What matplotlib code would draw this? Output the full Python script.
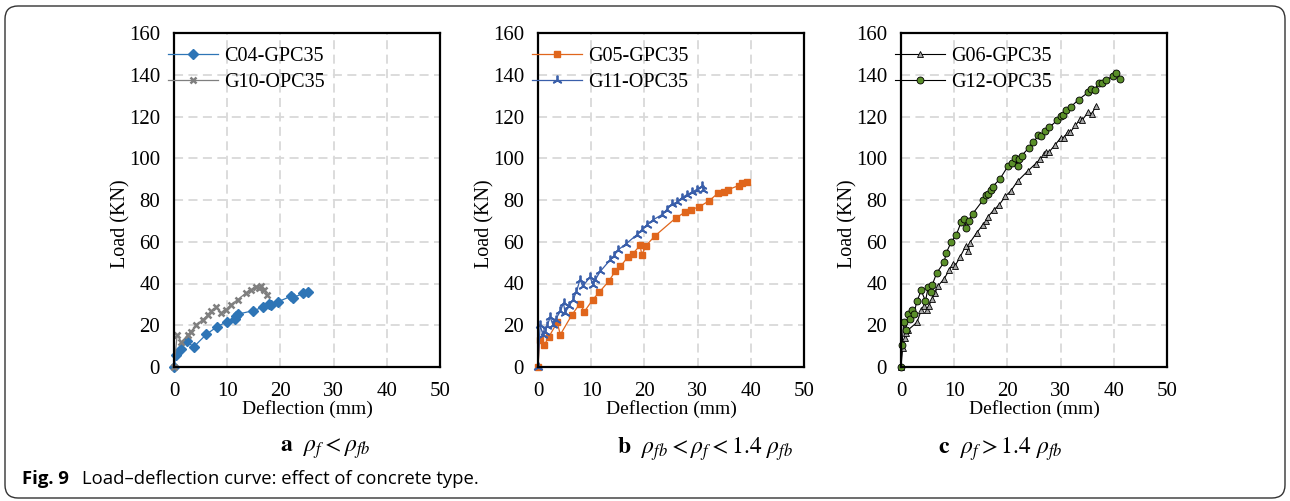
import matplotlib
matplotlib.use("Agg")
import matplotlib.pyplot as plt
from matplotlib.patches import FancyBboxPatch

plt.rcParams['font.family'] = ['Liberation Serif', 'DejaVu Serif']
plt.rcParams['mathtext.fontset'] = 'stix'

# panel a: rho_f < rho_fb
c04_x = [0, 0.4, 1.3, 2.4, 3.7, 6.1, 8.0, 9.9, 11.4, 11.7, 12.0, 14.9, 16.8, 17.9, 18.2, 19.6, 22.0, 22.3, 24.3, 25.1]
c04_y = [0, 5.9, 8.4, 12.3, 9.6, 15.7, 19.1, 21.7, 23.0, 24.6, 25.3, 27.0, 28.7, 30.2, 29.6, 31.3, 33.9, 33.0, 35.4, 36.0]
g10_x = [0, 0.6, 1.4, 2.6, 3.2, 4.2, 5.4, 6.4, 7.0, 7.9, 8.9, 9.8, 10.7, 12.0, 13.5, 14.5, 15.4, 16.0, 16.4, 17.0, 17.5]
g10_y = [0, 15.5, 11.8, 15.5, 17.0, 20.3, 22.7, 25.0, 26.7, 28.7, 25.9, 27.5, 29.9, 32.3, 35.4, 37.0, 38.3, 38.0, 38.6, 37.0, 34.7]

# panel b
g05_x = [0, 0.3, 1.2, 2.0, 3.6, 4.2, 6.4, 7.9, 8.7, 10.3, 11.5, 13.3, 14.5, 15.5, 16.9, 17.8, 19.2, 19.5, 20.3, 21.9,
         25.9, 27.6, 28.7, 30.3, 32.2, 33.9, 34.9, 35.8, 37.7, 38.3, 39.2]
g05_y = [0, 13.1, 10.7, 14.2, 21.4, 15.5, 25.1, 30.4, 26.5, 32.3, 35.8, 41.1, 45.8, 48.2, 52.7, 54.2, 58.3, 53.8, 58.1, 62.6,
         71.4, 74.1, 75.4, 76.7, 79.7, 83.4, 83.7, 85.0, 86.9, 88.2, 88.7]
g11_x = [0, 0.4, 0.9, 1.4, 1.7, 2.3, 2.8, 3.3, 4.2, 4.8, 5.1, 5.8, 6.6, 7.2, 7.9, 8.4, 9.8, 10.3, 10.8, 11.7,
         13.6, 14.2, 15.1, 16.5, 18.6, 19.5, 20.5, 21.7, 23.3, 24.2, 25.2, 26.1, 27.0, 28.0, 28.9, 29.8, 30.8, 31.1]
g11_y = [0, 20.3, 15.5, 17.0, 19.8, 23.8, 20.3, 22.7, 26.7, 30.7, 25.9, 29.1, 32.3, 35.9, 41.9, 38.7, 43.1, 39.5, 41.9, 45.8,
         51.4, 53.0, 56.2, 58.9, 63.4, 65.8, 68.2, 70.6, 73.0, 75.4, 78.1, 78.9, 81.0, 82.6, 83.7, 85.0, 86.6, 85.0]

# panel c
g06_x = [0, 0.3, 0.7, 1.0, 1.4, 3.0, 3.8, 4.3, 4.8, 5.2, 5.8, 6.4, 6.9, 8.1, 9.1, 9.8, 10.2, 11.1, 12.2, 12.6,
         12.9, 14.2, 15.4, 16.0, 16.3, 17.5, 18.5, 19.6, 20.6, 21.9, 23.8, 25.3, 26.2, 26.9, 27.2, 27.8, 29.0, 30.0,
         30.6, 31.3, 31.8, 32.8, 33.7, 34.0, 35.2, 35.9, 36.6]
g06_y = [0, 9.1, 13.9, 16.3, 17.9, 21.4, 27.2, 29.1, 27.5, 29.1, 32.6, 35.5, 38.7, 42.2, 46.7, 49.5, 48.6, 52.7, 58.1, 55.4,
         59.4, 64.2, 68.2, 69.8, 71.9, 75.4, 77.8, 81.8, 84.2, 89.0, 93.8, 97.4, 99.7, 101.8, 102.9, 102.9, 106.5, 109.7,
         109.7, 112.5, 112.5, 115.7, 118.8, 118.2, 122.0, 121.3, 125.1]
g12_x = [0, 0.2, 0.5, 0.9, 1.4, 1.75, 2.1, 2.4, 3.0, 3.8, 4.6, 5.1, 5.7, 5.9, 6.7, 8.1, 8.5, 9.4, 10.4, 11.3,
         11.9, 12.2, 12.7, 13.5, 15.4, 16.0, 16.3, 16.9, 17.2, 18.6, 20.1, 20.9, 21.5, 21.9, 22.1, 22.7, 24.0, 24.9,
         25.8, 26.4, 27.1, 27.9, 29.4, 30.1, 30.4, 31.1, 31.9, 33.4, 35.2, 35.8, 36.4, 37.2, 37.7, 38.6, 39.9, 40.5, 41.1]
g12_y = [0, 10.7, 21.4, 17.9, 25.4, 23.2, 27.5, 25.4, 31.5, 36.7, 31.5, 38.2, 35.8, 39.5, 45.0, 50.2, 54.6, 59.7, 63.4, 69.3,
         71.1, 66.8, 70.1, 73.5, 79.9, 82.4, 83.1, 85.0, 86.3, 90.1, 96.2, 97.8, 100.2, 96.2, 99.7, 101.3, 104.9, 107.7,
         110.9, 110.5, 112.9, 114.9, 118.2, 120.4, 120.6, 123.3, 124.6, 128.1, 131.6, 133.2, 132.9, 136.1, 136.1, 137.7,
         139.3, 140.6, 138.2]

captions = [r"$\mathbf{a}$  $\rho_f < \rho_{fb}$",
            r"$\mathbf{b}$  $\rho_{fb} < \rho_f < 1.4\ \rho_{fb}$",
            r"$\mathbf{c}$  $\rho_f > 1.4\ \rho_{fb}$"]

W, H = 1290, 501
fig = plt.figure(figsize=(W / 100, H / 100), dpi=100)

# outer rounded frame
frame = FancyBboxPatch((0.05, 0.03), 12.80, 4.92, boxstyle="round,pad=0,rounding_size=0.13",
                       transform=fig.dpi_scale_trans, fill=False, edgecolor="#333333", linewidth=1.0)
fig.patches.append(frame)

lefts = [174, 538, 901]
axes = []
for i, L in enumerate(lefts):
    ax = fig.add_axes([L / W, 1 - 367 / H, 266 / W, 334 / H])
    ax.set_xlim(0, 50)
    ax.set_ylim(0, 160)
    ax.set_xticks(range(0, 51, 10))
    ax.set_yticks(range(0, 161, 20))
    ax.grid(True, color="#d9d9d9", linestyle=(0, (5, 3)), linewidth=1.3)
    ax.set_axisbelow(True)
    for s in ax.spines.values():
        s.set_linewidth(1.6)
        s.set_color("black")
    ax.tick_params(length=0, labelsize=15)
    ax.tick_params(axis="y", pad=10)
    ax.tick_params(axis="x", pad=11)
    ax.set_xlabel("Deflection (mm)", fontsize=14)
    ax.xaxis.set_label_coords(0.5, -0.098)
    ax.set_ylabel("Load (KN)", fontsize=14.5)
    ax.yaxis.set_label_coords(-0.165, 0.428)
    axes.append(ax)

ax = axes[0]
ax.plot(c04_x, c04_y, color="#2e75b6", marker="D", markersize=5.5, linewidth=0.9, label="C04-GPC35", clip_on=False)
ax.plot(g10_x, g10_y, color="#7f7f7f", marker="x", markersize=5, markeredgewidth=1.8, linewidth=0.9,
        label="G10-OPC35", clip_on=False)

ax = axes[1]
ax.plot(g05_x, g05_y, color="#e0661c", marker="s", markersize=5, linewidth=0.9, label="G05-GPC35", clip_on=False)
ax.plot(g11_x, g11_y, color="#3a5faa", marker=(3, 2, 0), markersize=7, markeredgewidth=1.3, linewidth=0.9,
        label="G11-OPC35", clip_on=False)

ax = axes[2]
ax.plot(g06_x, g06_y, color="black", marker="^", markersize=4.5, markerfacecolor="#a6a6a6",
        markeredgecolor="black", markeredgewidth=0.6, linewidth=0.8, label="G06-GPC35", clip_on=False)
ax.plot(g12_x, g12_y, color="black", marker="o", markersize=5, markerfacecolor="#5a8f29",
        markeredgecolor="black", markeredgewidth=0.6, linewidth=0.8, label="G12-OPC35", clip_on=False)

for ax in axes:
    ax.legend(loc="upper left", bbox_to_anchor=(-0.022, 0.957), frameon=False, fontsize=14.5,
              handlelength=2.5, handletextpad=0.3, labelspacing=0.34, borderpad=0, borderaxespad=0)

cap_x = [325, 705, 1000]
for cx, txt in zip(cap_x, captions):
    fig.text(cx / W, 1 - 449 / H, txt, fontsize=17, ha="center", va="center")

fig.text(22 / W, 1 - 479 / H, "Fig. 9", fontsize=13.3, fontweight="bold", family="Open Sans",
         ha="left", va="center")
fig.text(82 / W, 1 - 479 / H, "Load\u2013deflection curve: effect of concrete type.", fontsize=13.3,
         family="Open Sans", ha="left", va="center")

fig.savefig("out.png", dpi=100)
